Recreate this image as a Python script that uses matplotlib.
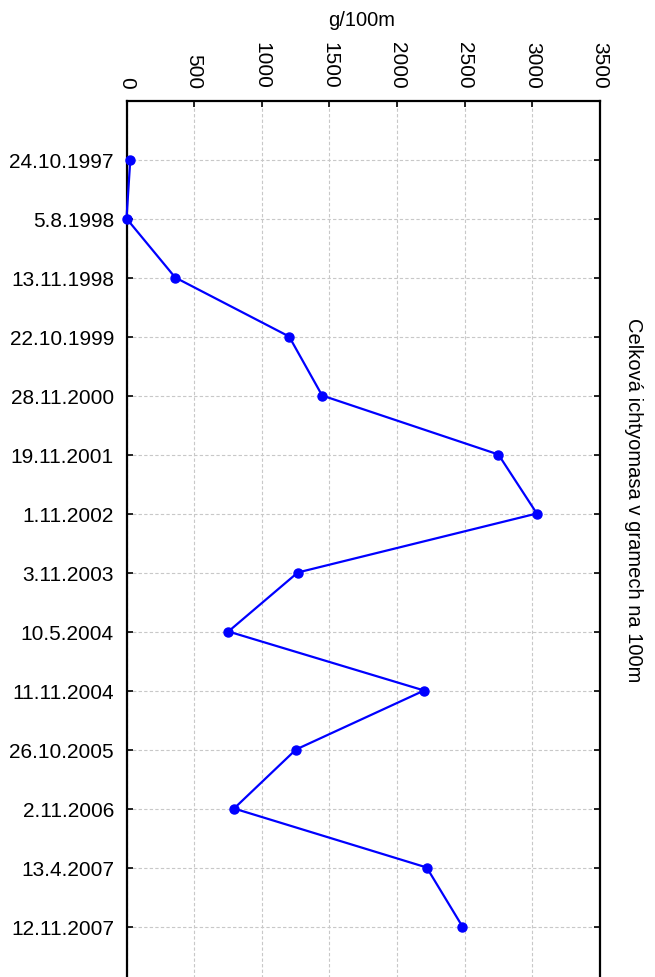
import numpy as np
import matplotlib
matplotlib.use('Agg')
import matplotlib.pyplot as plt

plt.rcParams['font.family'] = ['Liberation Sans', 'DejaVu Sans']

dates = ['24.10.1997', '5.8.1998', '13.11.1998', '22.10.1999', '28.11.2000',
         '19.11.2001', '1.11.2002', '3.11.2003', '10.5.2004', '11.11.2004',
         '26.10.2005', '2.11.2006', '13.4.2007', '12.11.2007']
biomass = [28, 0, 360, 1202, 1446, 2749, 3033, 1266, 753, 2200,
           1253, 795, 2219, 2483]
x_ticks = [0, 500, 1000, 1500, 2000, 2500, 3000, 3500]

W, H = 655, 978
fig = plt.figure(figsize=(W / 100, H / 100), dpi=100)

# one row every 59 px, axes run past the bottom edge of the figure
left, right, top = 126.5, 600, 101.5
row = 59.0
n_rows = 16
ax = fig.add_axes([left / W, (H - top - n_rows * row) / H,
                   (right - left) / W, n_rows * row / H])

pos = np.arange(len(dates))
ax.plot(biomass, pos, color='#0000ff', lw=1.6, marker='o', ms=6.5,
        clip_on=False, zorder=3)

ax.set_xlim(0, 3500)
ax.set_ylim(n_rows - 1, -1)
ax.set_xticks(x_ticks)
ax.set_yticks(pos)
ax.set_yticklabels(dates)

ax.xaxis.tick_top()
ax.tick_params(axis='x', top=True, bottom=False, direction='in', length=4,
               width=1.2, labelsize=15, pad=9, labelrotation=-90)
ax.tick_params(axis='y', left=True, right=True, direction='in', length=4,
               width=1.2, labelsize=15, pad=9)

ax.grid(True, color='#c8c8c8', ls=(0, (3, 2)), lw=0.8)
ax.set_axisbelow(True)
for side in ['left', 'right', 'top']:
    ax.spines[side].set_linewidth(1.6)
ax.spines['bottom'].set_visible(False)

fig.text(362 / W, 1 - 20 / H, 'g/100m', ha='center', va='center', fontsize=14.5)
fig.text(633 / W, 1 - 500 / H, 'Celková ichtyomasa v gramech na 100m',
         ha='center', va='center', rotation=-90, fontsize=14.5)

fig.savefig('out.png', dpi=100)
